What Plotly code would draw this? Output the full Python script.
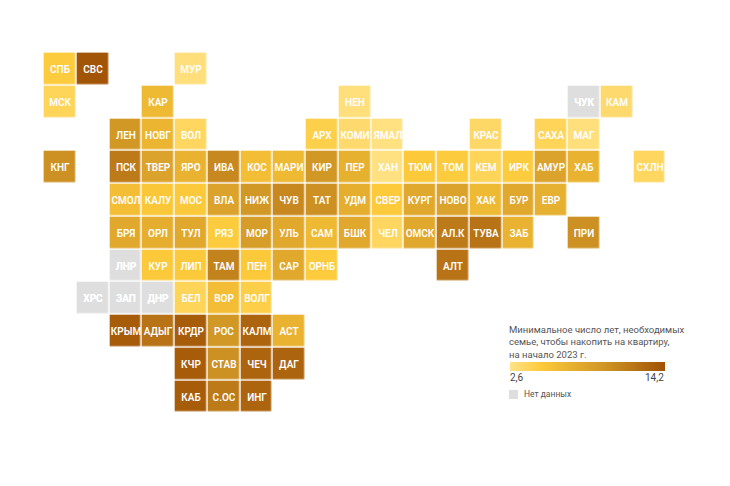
import plotly.graph_objects as go

W, H = 730, 486
codes = ["СПБ","СВС","МУР","МСК","КАР","НЕН","ЧУК","КАМ",
 "ЛЕН","НОВГ","ВОЛ","АРХ","КОМИ","ЯМАЛ","КРАС","САХА","МАГ",
 "КНГ","ПСК","ТВЕР","ЯРО","ИВА","КОС","МАРИ","КИР","ПЕР","ХАН","ТЮМ","ТОМ","КЕМ","ИРК","АМУР","ХАБ","СХЛН",
 "СМОЛ","КАЛУ","МОС","ВЛА","НИЖ","ЧУВ","ТАТ","УДМ","СВЕР","КУРГ","НОВО","ХАК","БУР","ЕВР",
 "БРЯ","ОРЛ","ТУЛ","РЯЗ","МОР","УЛЬ","САМ","БШК","ЧЕЛ","ОМСК","АЛ.К","ТУВА","ЗАБ","ПРИ",
 "ЛНР","КУР","ЛИП","ТАМ","ПЕН","САР","ОРНБ","АЛТ",
 "ХРС","ЗАП","ДНР","БЕЛ","ВОР","ВОЛГ",
 "КРЫМ","АДЫГ","КРДР","РОС","КАЛМ","АСТ",
 "КЧР","СТАВ","ЧЕЧ","ДАГ",
 "КАБ","С.ОС","ИНГ"]
values = [4.8,14.0,3.0,4.0,6.5,3.0,None,3.4,
 9.5,6.8,3.8,4.4,3.4,2.8,3.6,4.0,3.0,
 10.0,11.5,8.5,7.0,10.5,6.0,6.5,9.5,7.2,2.8,5.0,4.8,4.0,4.8,8.5,7.0,3.8,
 6.0,5.2,5.0,8.5,9.5,10.5,10.0,7.5,4.9,8.0,8.5,6.5,8.0,7.3,
 8.0,7.5,8.0,4.8,9.0,8.0,6.5,8.0,3.8,8.0,11.5,12.0,7.0,10.0,
 None,5.0,5.0,11.0,5.0,8.0,4.8,12.0,
 None,None,None,4.0,6.0,4.5,
 13.5,12.0,13.5,9.5,13.0,7.0,
 13.5,10.0,13.0,13.0,
 13.5,11.5,13.0]
tile_col = [0,1,4,0,3,9,16,17,
 2,3,4,8,9,10,13,15,16,
 0,2,3,4,5,6,7,8,9,10,11,12,13,14,15,16,18,
 2,3,4,5,6,7,8,9,10,11,12,13,14,15,
 2,3,4,5,6,7,8,9,10,11,12,13,14,16,
 2,3,4,5,6,7,8,12,
 1,2,3,4,5,6,
 2,3,4,5,6,7,
 4,5,6,7,
 4,5,6]
tile_row = [0,0,0,1,1,1,1,1,
 2,2,2,2,2,2,2,2,2,
 3,3,3,3,3,3,3,3,3,3,3,3,3,3,3,3,3,
 4,4,4,4,4,4,4,4,4,4,4,4,4,4,
 5,5,5,5,5,5,5,5,5,5,5,5,5,5,
 6,6,6,6,6,6,6,6,
 7,7,7,7,7,7,
 8,8,8,8,8,8,
 9,9,9,9,
 10,10,10]
legend_title = "Минимальное число лет, необходимых<br>семье, чтобы накопить на квартиру,<br>на начало 2023 г."
v_min, v_max = 2.6, 14.2
no_data_label = "Нет данных"

n_rows, n_cols = max(tile_row) + 1, max(tile_col) + 1
z = [[None] * n_cols for _ in range(n_rows)]
z_na = [[None] * n_cols for _ in range(n_rows)]
txt = [[""] * n_cols for _ in range(n_rows)]
for code, val, c, r in zip(codes, values, tile_col, tile_row):
    txt[r][c] = code
    if val is None:
        z_na[r][c] = 1
    else:
        z[r][c] = val

scale = [[0, "#ffe389"], [0.2, "#fdca3a"], [0.6, "#d19726"], [1, "#a05205"]]
font = "Roboto, Arial, sans-serif"
tf = dict(family=font, size=10, color="white", weight=600)
PITCH = 32.75
fig = go.Figure()
fig.add_trace(go.Heatmap(z=z_na, text=txt, texttemplate="%{text}", textfont=tf,
    colorscale=[[0, "#dedede"], [1, "#dedede"]], showscale=False, xgap=1.5, ygap=1.5, hoverongaps=False))
fig.add_trace(go.Heatmap(z=z, text=txt, texttemplate="%{text}", textfont=tf,
    colorscale=scale, zmin=v_min, zmax=v_max, xgap=1.5, ygap=1.5, hoverongaps=False,
    colorbar=dict(orientation="h", x=510/W, xanchor="left", xref="paper", y=1-371/H, yanchor="bottom",
                  yref="paper", len=155/W, lenmode="fraction", thickness=9, thicknessmode="pixels",
                  outlinewidth=0, borderwidth=0, xpad=0, ypad=0, ticks="", showticklabels=False)))
fig.update_layout(width=W, height=H, margin=dict(l=0, r=0, t=0, b=0),
    paper_bgcolor="white", plot_bgcolor="white", font=dict(family=font),
    xaxis=dict(range=[(0-60)/PITCH, (W-60)/PITCH], visible=False, domain=[0, 1]),
    yaxis=dict(range=[(H-69)/PITCH, (0-69)/PITCH], visible=False, domain=[0, 1]),
    annotations=[
        dict(text=legend_title, x=507/W, y=1-322/H, xref="paper", yref="paper", xanchor="left", yanchor="top",
             align="left", showarrow=False, font=dict(size=9.5, color="#555555", family=font)),
        dict(text="2,6", x=508/W, y=1-370/H, xref="paper", yref="paper", xanchor="left", yanchor="top",
             showarrow=False, font=dict(size=10, color="#444444", family=font)),
        dict(text="14,2", x=666/W, y=1-370/H, xref="paper", yref="paper", xanchor="right", yanchor="top",
             showarrow=False, font=dict(size=10, color="#444444", family=font)),
        dict(text=no_data_label, x=522/W, y=1-394/H, xref="paper", yref="paper", xanchor="left", yanchor="middle",
             showarrow=False, font=dict(size=8.5, color="#555555", family=font)),
    ],
    shapes=[dict(type="rect", xref="paper", yref="paper", x0=509/W, x1=518/W, y0=1-399/H, y1=1-390/H,
                 fillcolor="#dedede", line_width=0)])
fig.write_html("out.html", config=dict(displayModeBar=False),
               post_script="document.body.style.margin='0';")
